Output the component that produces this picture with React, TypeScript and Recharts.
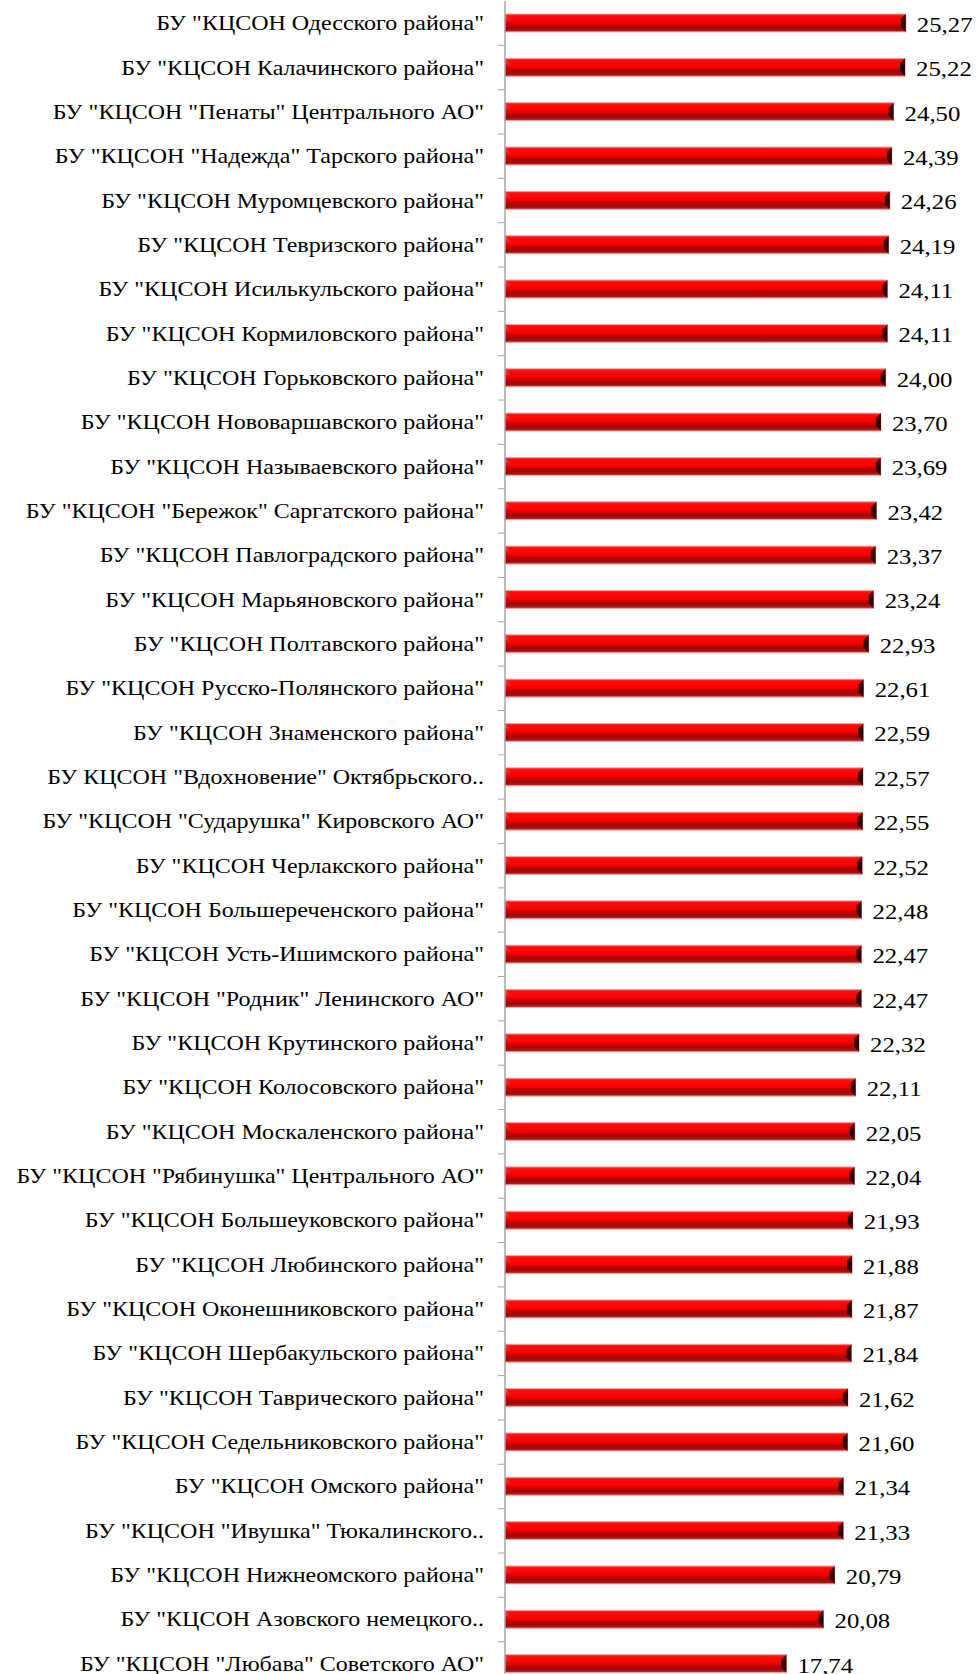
import React from "react";
import { BarChart, Bar, XAxis, YAxis, LabelList } from "recharts";

const categories: string[] = [
  'БУ "КЦСОН Одесского района"',
  'БУ "КЦСОН Калачинского района"',
  'БУ "КЦСОН "Пенаты" Центрального АО"',
  'БУ "КЦСОН "Надежда" Тарского района"',
  'БУ "КЦСОН Муромцевского района"',
  'БУ "КЦСОН Тевризского района"',
  'БУ "КЦСОН Исилькульского района"',
  'БУ "КЦСОН Кормиловского района"',
  'БУ "КЦСОН Горьковского района"',
  'БУ "КЦСОН Нововаршавского района"',
  'БУ "КЦСОН Называевского района"',
  'БУ "КЦСОН "Бережок" Саргатского района"',
  'БУ "КЦСОН Павлоградского района"',
  'БУ "КЦСОН Марьяновского района"',
  'БУ "КЦСОН Полтавского района"',
  'БУ "КЦСОН Русско-Полянского района"',
  'БУ "КЦСОН Знаменского района"',
  'БУ КЦСОН "Вдохновение" Октябрьского..',
  'БУ "КЦСОН "Сударушка" Кировского АО"',
  'БУ "КЦСОН Черлакского района"',
  'БУ "КЦСОН Большереченского района"',
  'БУ "КЦСОН Усть-Ишимского района"',
  'БУ "КЦСОН "Родник" Ленинского АО"',
  'БУ "КЦСОН Крутинского района"',
  'БУ "КЦСОН Колосовского района"',
  'БУ "КЦСОН Москаленского района"',
  'БУ "КЦСОН "Рябинушка" Центрального АО"',
  'БУ "КЦСОН Большеуковского района"',
  'БУ "КЦСОН Любинского района"',
  'БУ "КЦСОН Оконешниковского района"',
  'БУ "КЦСОН Шербакульского района"',
  'БУ "КЦСОН Таврического района"',
  'БУ "КЦСОН Седельниковского района"',
  'БУ "КЦСОН Омского района"',
  'БУ "КЦСОН "Ивушка" Тюкалинского..',
  'БУ "КЦСОН Нижнеомского района"',
  'БУ "КЦСОН Азовского немецкого..',
  'БУ "КЦСОН "Любава" Советского АО"',
];

const values: number[] = [
  25.27, 25.22, 24.5, 24.39, 24.26, 24.19, 24.11, 24.11, 24.0, 23.7,
  23.69, 23.42, 23.37, 23.24, 22.93, 22.61, 22.59, 22.57, 22.55, 22.52,
  22.48, 22.47, 22.47, 22.32, 22.11, 22.05, 22.04, 21.93, 21.88, 21.87,
  21.84, 21.62, 21.6, 21.34, 21.33, 20.79, 20.08, 17.74,
];

const data = categories.map((name, i) => ({ name, value: values[i] }));

const FONT = "Liberation Serif, DejaVu Serif, serif";
const BAND_HALF = 22.17;

const CategoryTick = (props: any) => {
  const { x, y, payload } = props;
  return (
    <g>
      <g transform={`translate(${x - 21} ${y + 7}) scale(1.2 1)`}>
        <text
          x={0}
          y={0}
          textAnchor="end"
          style={{ fontFamily: FONT, fontSize: 20 }}
          fill="#000"
        >
          {payload.value}
        </text>
      </g>
      <line x1={x - 7} x2={x} y1={y + BAND_HALF} y2={y + BAND_HALF} stroke="#a6a6a6" strokeWidth={1} />
    </g>
  );
};

const ValueLabel = (props: any) => {
  const { x, y, width, height, value } = props;
  const tx = x + width + 11;
  const ty = y + height / 2 + 9;
  return (
    <g transform={`translate(${tx} ${ty}) scale(1.18 1)`}>
      <text x={0} y={0} textAnchor="start" style={{ fontFamily: FONT, fontSize: 21 }} fill="#000">
        {Number(value).toFixed(2).replace(".", ",")}
      </text>
    </g>
  );
};

const BevelBar = (props: any) => {
  const { x, y, width, height } = props;
  if (!width || width <= 0) return null;
  const b = 5;
  return (
    <g>
      <rect x={x} y={y} width={width} height={height} fill="url(#barGrad)" stroke="#f2a0a0" strokeWidth={0.8} />
      <polygon
        points={`${x},${y} ${x + b},${y + b} ${x + b},${y + height - b} ${x},${y + height}`}
        fill="url(#leftGrad)"
      />
      <polygon
        points={`${x + width - b},${y + b} ${x + width},${y} ${x + width},${y + height} ${x + width - b},${y + height - b}`}
        fill="url(#capGrad)"
      />
    </g>
  );
};

export default function App() {
  return (
    <div style={{ position: "absolute", left: 0, top: 0, background: "#fff" }}>
      <BarChart
        width={979}
        height={1686}
        data={data}
        layout="vertical"
        margin={{ top: 1, right: 14, bottom: 0, left: 0 }}
        barCategoryGap={0}
      >
        <defs>
          <linearGradient id="barGrad" x1="0" y1="0" x2="0" y2="1">
            <stop offset="0" stopColor="#ff3a3a" />
            <stop offset="0.12" stopColor="#ff0a0a" />
            <stop offset="0.5" stopColor="#f80000" />
            <stop offset="0.58" stopColor="#cc0000" />
            <stop offset="0.78" stopColor="#9c0a0a" />
            <stop offset="0.92" stopColor="#b01515" />
            <stop offset="1" stopColor="#e87070" />
          </linearGradient>
          <linearGradient id="leftGrad" x1="0" y1="0" x2="0" y2="1">
            <stop offset="0" stopColor="#ff5050" />
            <stop offset="0.5" stopColor="#e00000" />
            <stop offset="1" stopColor="#800000" />
          </linearGradient>
          <linearGradient id="capGrad" x1="0" y1="0" x2="0" y2="1">
            <stop offset="0" stopColor="#6a0000" />
            <stop offset="0.5" stopColor="#2a0000" />
            <stop offset="1" stopColor="#500000" />
          </linearGradient>
        </defs>
        <XAxis type="number" domain={[0, 29]} hide />
        <YAxis
          type="category"
          dataKey="name"
          width={505}
          interval={0}
          tickSize={0}
          tickMargin={0}
          tickLine={false}
          axisLine={{ stroke: "#a6a6a6", strokeWidth: 1.5 }}
          tick={<CategoryTick />}
        />
        <Bar dataKey="value" barSize={18} shape={<BevelBar />} isAnimationActive={false}>
          <LabelList dataKey="value" content={<ValueLabel />} />
        </Bar>
      </BarChart>
    </div>
  );
}
